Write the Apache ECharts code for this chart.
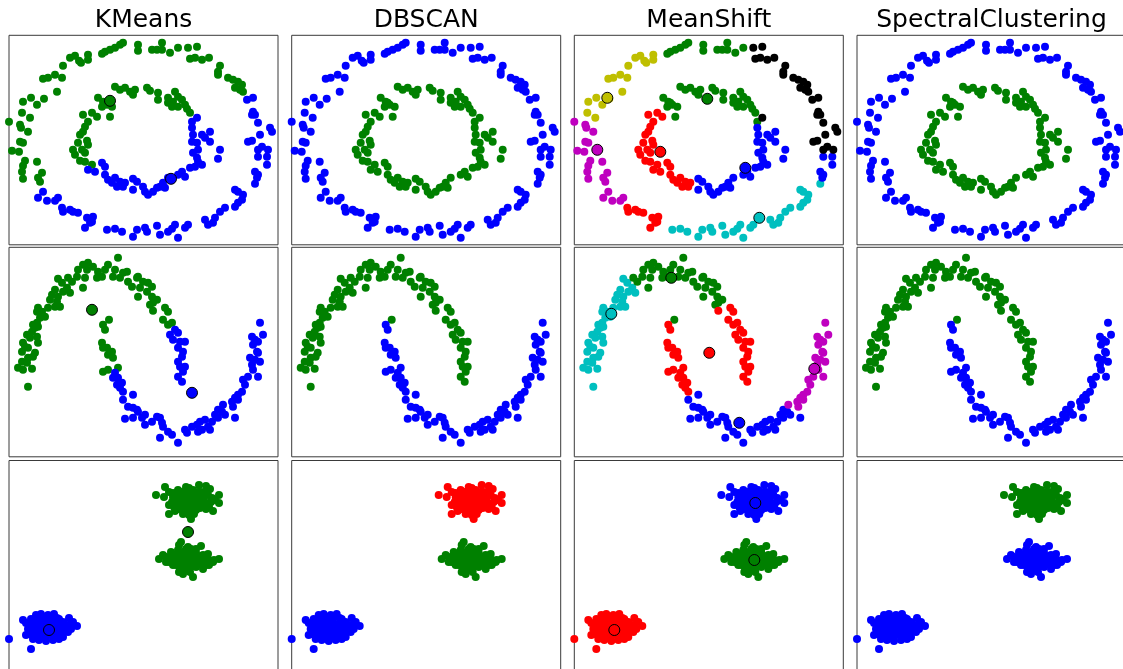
<!DOCTYPE html>
<html>
<head>
<meta charset="utf-8">
<script src="https://cdn.jsdelivr.net/npm/echarts@6/dist/echarts.min.js"></script>
<style>
  html, body { margin: 0; padding: 0; background: #fff; }
  #chart { width: 1123px; height: 669px; }
</style>
</head>
<body>
<div id="chart"></div>
<script>
// Column titles, one per clustering algorithm
const algorithms = ['KMeans', 'DBSCAN', 'MeanShift', 'SpectralClustering'];

// Cluster colour letters (matplotlib style)
const palette = { b: '#0000ff', g: '#008000', r: '#ff0000', c: '#00bfbf', m: '#bf00bf', y: '#bfbf00', k: '#000000' };

// ---- Dataset 1: two noisy concentric circles ----
// Each group carries a 4-letter label code: KMeans, DBSCAN, MeanShift, Spectral
const circlesOuterYellow = [[61,187],[70,184],[79,190],[79,185],[54,179],[46,170],[53,167],[39,167],[34,166],[48,153],[22,147],[14,143],[28,140],[35,146],[13,132],[21,127],[72,182],[66,189]];
const circlesOuterMagentaUpper = [[0,123],[11,120],[12,117],[19,113],[11,103],[14,102],[3,94],[10,93],[16,84],[28,83],[14,79],[13,73],[14,66],[33,72],[29,67],[31,63]];
const circlesOuterMagentaLower = [[34,53],[29,47],[38,44],[46,44],[49,47]];
const circlesOuterRed = [[53,37],[54,33],[61,35],[64,33],[69,32],[78,27],[84,28],[83,23],[76,17],[81,22]];
const circlesOuterCyan = [[98,15],[106,16],[113,13],[124,8],[128,15],[136,17],[138,13],[148,19],[151,10],[159,13],[163,16],[169,7],[166,20],[176,17],[179,20],[196,25],[199,20],[204,22],[206,27],[211,33],[216,37],[226,38],[229,42],[233,45],[234,50],[226,55],[229,53],[246,61]];
const circlesOuterBlue = [[249,70],[246,73],[248,67],[249,88],[258,88],[258,80]];
const circlesOuterBlackUpper = [[179,197],[188,198],[181,186],[186,187],[193,185],[200,187],[211,179],[209,173],[209,170],[219,167],[224,165],[229,163],[233,160],[231,155],[234,153],[226,157]];
const circlesOuterBlackLower = [[244,147],[238,145],[244,133],[246,130],[243,130],[249,122],[261,117],[263,113],[251,110],[243,104],[239,103],[253,98],[259,95],[249,95]];
const circlesOuterGreen = [[93,191],[96,193],[101,195],[106,197],[111,200],[114,202],[129,200],[129,194],[143,195],[148,195],[153,202],[153,195],[161,192],[169,197]];
const circlesInnerGreen = [[106,158],[111,155],[116,157],[121,153],[126,155],[124,150],[89,147],[94,143],[98,140],[103,138],[101,128],[93,138],[96,142],[138,157],[141,154],[149,152],[149,145],[159,147],[166,153],[164,143],[169,148],[173,145],[176,140],[178,136],[181,132],[169,138],[159,142],[163,138]];
const circlesInnerGreenTip = [[183,123]];
const circlesInnerBlack = [[188,127]];
const circlesInnerRedUpper = [[74,130],[83,132],[88,128],[79,123],[76,118],[74,113],[71,110],[69,102],[78,104],[64,95],[73,95],[79,100],[66,90],[76,92],[71,84],[76,83],[83,80]];
const circlesInnerRedLower = [[93,82],[96,78],[86,73],[79,75],[96,70],[99,65],[103,62],[106,67],[111,63],[108,58],[116,62],[114,58]];
const circlesInnerBlue = [[124,66],[128,63],[124,55],[134,58],[136,53],[139,50],[144,53],[148,57],[151,58],[154,62],[159,67],[156,57],[169,70],[173,73],[176,68],[181,77],[186,78],[189,83],[193,80],[188,87],[184,92],[189,95],[188,102],[183,103],[184,110],[193,110],[196,107],[201,113],[201,103],[183,117],[211,95],[209,86]];

const circleGroups = [
  ['gbyb', circlesOuterYellow], ['gbmb', circlesOuterMagentaUpper], ['bbmb', circlesOuterMagentaLower],
  ['bbrb', circlesOuterRed], ['bbcb', circlesOuterCyan], ['bbbb', circlesOuterBlue],
  ['gbkb', circlesOuterBlackUpper], ['bbkb', circlesOuterBlackLower], ['gbgb', circlesOuterGreen],
  ['gggg', circlesInnerGreen], ['bggg', circlesInnerGreenTip], ['bgkg', circlesInnerBlack],
  ['ggrg', circlesInnerRedUpper], ['bgrg', circlesInnerRedLower], ['bgbg', circlesInnerBlue]
];
// Cluster centres per algorithm column: [x, y, colour letter]
const circleCenters = [
  [[101,144,'g'],[162,66,'b']],
  [],
  [[33,147,'y'],[23,95,'m'],[86,93,'r'],[133,146,'g'],[171,77,'b'],[185,27,'c']],
  []
];

// ---- Dataset 2: two interleaving half moons ----
const moonsCyan = [[49,178],[53,174],[58,169],[61,164],[54,165],[46,167],[43,162],[49,160],[41,157],[48,155],[51,150],[46,150],[39,149],[29,149],[28,145],[33,145],[36,140],[31,139],[28,134],[29,130],[24,132],[26,129],[23,125],[18,122],[21,119],[28,120],[29,114],[14,114],[16,110],[19,109],[13,105],[26,104],[24,100],[19,99],[13,95],[18,94],[9,89],[14,87],[23,88],[19,70]];
const moonsGreen = [[59,179],[63,175],[68,180],[69,187],[74,192],[79,194],[78,187],[76,179],[74,169],[84,190],[89,185],[93,180],[88,179],[96,187],[99,192],[106,187],[109,199],[104,180],[111,179],[114,184],[118,185],[119,175],[123,170],[128,179],[129,180],[131,169],[134,175],[139,174],[138,165],[143,170],[143,160],[129,160],[148,157],[144,154],[141,152],[100,137]];
const moonsRedTailUpper = [[144,146],[156,149],[159,145],[154,137],[159,132],[163,134]];
const moonsRedTailLower = [[166,127],[161,122],[169,124],[164,117],[171,115],[176,115],[169,109],[174,105],[173,100],[169,95],[171,90],[176,90],[174,85],[169,80],[173,75]];
const moonsRedTipUpper = [[94,132],[96,127],[93,114],[94,109],[98,109],[103,105],[99,102],[104,99],[94,85],[99,87],[109,89]];
const moonsRedTipLower = [[106,84],[104,79],[109,79],[108,72],[113,74],[114,65],[111,69]];
const moonsBlue = [[114,57],[124,62],[119,50],[124,49],[128,47],[129,45],[136,42],[133,39],[116,38],[124,39],[136,32],[143,35],[148,40],[151,39],[153,34],[154,30],[151,19],[159,25],[163,22],[169,14],[176,27],[178,24],[183,30],[188,32],[191,35],[196,37],[199,30],[203,35],[209,39],[213,45],[209,47],[206,42],[216,42],[226,39],[201,27],[193,27],[189,25]];
const moonsMagenta = [[214,52],[223,55],[226,59],[229,62],[233,65],[236,72],[234,77],[239,80],[249,80],[244,87],[243,92],[246,97],[251,95],[248,105],[244,112],[249,115],[254,122],[251,134],[243,120],[246,117],[249,104],[241,99],[229,57],[224,50]];

const moonGroups = [
  ['ggcg', moonsCyan], ['gggg', moonsGreen], ['ggrg', moonsRedTailUpper], ['bgrg', moonsRedTailLower],
  ['gbrb', moonsRedTipUpper], ['bbrb', moonsRedTipLower], ['bbbb', moonsBlue], ['bbmb', moonsMagenta]
];
const moonCenters = [
  [[83,147,'g'],[183,64,'b']],
  [],
  [[37,143,'c'],[97,179,'g'],[135,104,'r'],[165,34,'b'],[240,88,'m']],
  []
];

// ---- Dataset 3: three gaussian blobs ----
const blobsTop = [[147,175],[156,183],[155,173],[160,165],[160,156],[169,180],[170,175],[174,156],[182,151],[180,182],[190,185],[197,184],[201,181],[210,175],[210,167],[204,159],[197,161],[194,171],[189,178],[184,180],[177,178],[175,168],[184,165],[167,168],[164,173],[179,161],[187,160],[170,161],[190,166],[199,175],[202,168],[172,171],[182,171],[160,178],[177,183],[165,163],[192,178],[185,156],[197,166],[180,155],[186,172],[181,175],[174,174],[193,173],[178,165],[188,168],[171,164],[164,177],[195,170],[183,162],
  [176,170],[183,168],[189,172],[170,168],[175,163],[192,169],[186,163],[180,178],[168,174],[196,178],[203,172],[178,172],[185,176],[173,178],[191,162],[163,168],[206,170],[200,163],[166,159],[181,159]];
const blobsMiddle = [[150,111],[154,115],[157,108],[162,118],[164,105],[170,125],[172,128],[177,121],[170,98],[174,96],[184,93],[180,101],[187,121],[192,124],[194,115],[197,111],[200,105],[205,110],[210,111],[194,101],[187,103],[182,115],[177,111],[170,111],[167,115],[164,111],[175,105],[184,108],[189,111],[179,116],[174,118],[185,116],[190,106],[167,105],[160,108],[204,108],[197,105],[180,106],[172,108],[182,111],[177,101],[157,113],[169,120],[182,121],[199,116],[176,113],[185,112],[171,114],[181,109],[188,114],[178,119],
  [175,110],[180,113],[186,110],[172,104],[168,108],[190,109],[195,108],[178,104],[183,104],[176,117],[184,119],[192,112],[165,112],[161,113],[200,110],[187,117],[171,101],[181,98],[193,106],[179,123]];
const blobsLeft = [[14,50],[17,47],[22,51],[27,55],[32,56],[35,53],[45,56],[50,51],[60,52],[64,48],[68,44],[57,45],[52,38],[50,31],[44,30],[37,29],[30,30],[24,31],[20,36],[19,41],[24,43],[29,46],[34,48],[40,50],[47,46],[54,48],[45,40],[34,38],[29,36],[37,43],[42,35],[49,36],[57,40],[30,41],[25,38],[35,33],[22,21],[59,38],[39,55],[44,45],[27,33],[17,35],[54,33],[0,31],[40,42],[38,38],[42,44],[46,42],[33,43],[36,46],
  [39,45],[43,40],[47,38],[35,40],[32,36],[28,40],[52,43],[50,46],[41,36],[37,34],[45,35],[55,44],[60,45],[48,52],[42,52],[26,48],[21,45],[31,52],[62,41],[27,43]];

const blobGroups = [['grbg', blobsTop], ['gggb', blobsMiddle], ['bbrb', blobsLeft]];
const blobCenters = [
  [[179,138,'g'],[40,40,'b']],
  [],
  [[181,167,'b'],[180,110,'g'],[40,40,'r']],
  []
];

const datasetGroups = [circleGroups, moonGroups, blobGroups];
const datasetCenters = [circleCenters, moonCenters, blobCenters];

// ---- Layout of the 3 x 4 panel grid ----
const colLeft = [9, 291.7, 574.3, 857];
const rowTop = [35.3, 247.3, 460.5];
const panelW = 269, panelH = 209.5;
const yRange = [0, 209.5];

const grids = [], xAxes = [], yAxes = [], series = [];
datasetGroups.forEach((groups, r) => {
  algorithms.forEach((name, c) => {
    const idx = grids.length;
    grids.push({
      left: colLeft[c], top: rowTop[r], width: panelW, height: panelH,
      outerBoundsMode: 'none', containLabel: false,
      show: true, borderColor: '#3a3a3a', borderWidth: 1, backgroundColor: '#ffffff'
    });
    xAxes.push({ gridIndex: idx, type: 'value', min: 0, max: panelW, show: false });
    yAxes.push({ gridIndex: idx, type: 'value', min: yRange[0], max: yRange[1], show: false });

    const points = [];
    groups.forEach(([code, pts]) => {
      pts.forEach(p => points.push({ value: p, itemStyle: { color: palette[code[c]] } }));
    });
    series.push({
      type: 'scatter', xAxisIndex: idx, yAxisIndex: idx, data: points,
      symbol: 'circle', symbolSize: 8, clip: true, silent: true, z: 2,
      itemStyle: { opacity: 1 }
    });

    const centers = datasetCenters[r][c];
    if (centers.length) {
      series.push({
        type: 'scatter', xAxisIndex: idx, yAxisIndex: idx,
        data: centers.map(([x, y, k]) => ({ value: [x, y], itemStyle: { color: palette[k] } })),
        symbol: 'circle', symbolSize: 11, clip: true, silent: true, z: 3,
        itemStyle: { borderColor: '#000000', borderWidth: 1, opacity: 1 }
      });
    }
  });
});

const chart = echarts.init(document.getElementById('chart'), null, { renderer: 'canvas' });
chart.setOption({
  animation: false,
  backgroundColor: '#ffffff',
  title: algorithms.map((t, c) => ({
    text: t,
    left: colLeft[c] + panelW / 2,
    top: 8,
    textAlign: 'center',
    padding: 0,
    textStyle: { fontFamily: 'DejaVu Sans', fontSize: 25, fontWeight: 'normal', color: '#000000' }
  })),
  grid: grids,
  xAxis: xAxes,
  yAxis: yAxes,
  series: series
});
</script>
</body>
</html>
